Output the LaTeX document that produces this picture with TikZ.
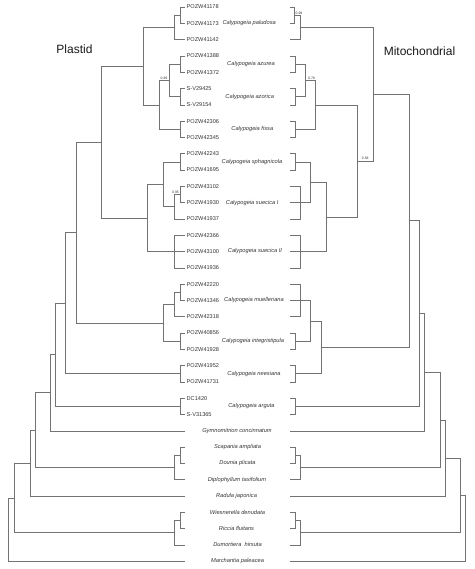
\documentclass[tikz,border=0pt]{standalone}
\usepackage{fontspec}
\setmainfont{Liberation Sans}
\begin{document}
\begin{tikzpicture}[x=1pt,y=-1pt,
  tree/.style={draw=black!55,line width=0.55pt},
  code/.style={anchor=west,inner sep=0pt,font=\fontsize{5.6}{6}\selectfont,text=black!80},
  spec/.style={inner sep=0pt,font=\fontsize{5.7}{6}\selectfont\itshape,text=black!80},
  supp/.style={anchor=south,inner sep=0.6pt,font=\fontsize{3.4}{4}\selectfont,text=black!80},
  title/.style={inner sep=0pt,font=\fontsize{12}{14}\selectfont,text=black!90}]
\useasboundingbox (0,0) rectangle (474,569);
% leaf end points
\foreach \i in {1,...,35}{
  \coordinate (L\i) at (185,{7+(\i-1)*16.3});
  \coordinate (R\i) at (290,{7+(\i-1)*16.3});
}
% specimen codes
\foreach \i/\c in {1/POZW41178,2/POZW41173,3/POZW41142,4/POZW41388,5/POZW41372,6/S-V29425,7/S-V29154,8/POZW42306,9/POZW42345,10/POZW42243,11/POZW41695,12/POZW43102,13/POZW41930,14/POZW41937,15/POZW42366,16/POZW43100,17/POZW41936,18/POZW42220,19/POZW41346,20/POZW42318,21/POZW40856,22/POZW41928,23/POZW41952,24/POZW41731,25/DC1420,26/S-V31365}{
  \node[code] (c\i) at (186.5,{7+(\i-1)*16.3}) {\c};
}
% species names
\node[spec] (sp1) at (249.2,23.3) {Calypogeia paludosa};
\node[spec] (sp2) at (251,64.05) {Calypogeia azurea};
\node[spec] (sp3) at (249.7,96.65) {Calypogeia azorica};
\node[spec] (sp4) at (252.3,129.25) {Calypogeia fissa};
\node[spec] (sp5) at (252,161.85) {Calypogeia sphagnicola};
\node[spec] (sp6) at (252.2,202.6) {Calypogeia suecica I};
\node[spec] (sp7) at (255,251.5) {Calypogeia suecica II};
\node[spec] (sp8) at (254,300.4) {Calypogeia muelleriana};
\node[spec] (sp9) at (253,341.15) {Calypogeia integristipula};
\node[spec] (sp10) at (254,373.75) {Calypogeia neesiana};
\node[spec] (sp11) at (251.5,406.35) {Calypogeia arguta};
\node[spec] (t27) at (237,430.8) {Gymnomitrion concinnatum};
\node[spec] (t28) at (237.5,447.1) {Scapania ampliata};
\node[spec] (t29) at (237.5,463.4) {Dounia plicata};
\node[spec] (t30) at (237,479.7) {Diplophyllum taxifolium};
\node[spec] (t31) at (236.5,496.0) {Radula japonica};
\node[spec] (t32) at (237.5,512.3) {Wiesnerella denudata};
\node[spec] (t33) at (236.5,528.6) {Riccia fluitans};
\node[spec] (t34) at (237.5,544.9) {Dumortiera\ \ hirsuta};
\node[spec] (t35) at (237.5,561.2) {Marchantia paleacea};
% titles
\node[title] (plastid) at (74.5,49) {Plastid};
\node[title] (mito) at (419.5,51) {Mitochondrial};
% ---------- left (plastid) tree ----------
\coordinate (A12) at (180,15.15);
\coordinate (A123) at (174.7,27.4);
\coordinate (A45) at (180,64.05);
\coordinate (A67) at (180,96.65);
\coordinate (A47) at (169.3,80.35);
\coordinate (A89) at (180,129.25);
\coordinate (A49) at (159,104.8);
\coordinate (A19) at (143,66.1);
\coordinate (A1011) at (180,161.85);
\coordinate (A1213) at (180,194.45);
\coordinate (A1214) at (174,206.7);
\coordinate (A1014) at (163.3,184.3);
\coordinate (A1517) at (174,251.5);
\coordinate (A1017) at (147.7,217.9);
\coordinate (A117) at (101.7,142);
\coordinate (A1819) at (180,292.25);
\coordinate (A1820) at (174.7,304.5);
\coordinate (A2122) at (180,341.15);
\coordinate (A1822) at (163.3,322.8);
\coordinate (A122) at (76.7,232.4);
\coordinate (A2324) at (180,373.75);
\coordinate (A124) at (65,303.1);
\coordinate (A2526) at (180,406.35);
\coordinate (A126) at (55,354.7);
\coordinate (A127) at (50,392.75);
\coordinate (A2829) at (180,455.25);
\coordinate (A2830) at (174,467.5);
\coordinate (A130) at (35,430.1);
\coordinate (A131) at (30,463.05);
\coordinate (A3233) at (180,520.45);
\coordinate (A3234) at (174,532.7);
\coordinate (A134) at (14,497.9);
\coordinate (Aroot) at (8.3,529.5);
\foreach \p/\c in {A12/L1,A12/L2,A123/A12,A123/L3,A45/L4,A45/L5,A67/L6,A67/L7,A47/A45,A47/A67,A89/L8,A89/L9,A49/A47,A49/A89,A19/A123,A19/A49,
  A1011/L10,A1011/L11,A1213/L12,A1213/L13,A1214/A1213,A1214/L14,A1014/A1011,A1014/A1214,A1517/L15,A1517/L16,A1517/L17,A1017/A1014,A1017/A1517,A117/A19,A117/A1017,
  A1819/L18,A1819/L19,A1820/A1819,A1820/L20,A2122/L21,A2122/L22,A1822/A1820,A1822/A2122,A122/A117,A122/A1822,
  A2324/L23,A2324/L24,A124/A122,A124/A2324,A2526/L25,A2526/L26,A126/A124,A126/A2526,A127/A126,A127/L27,
  A2829/L28,A2829/L29,A2830/A2829,A2830/L30,A130/A127,A130/A2830,A131/A130,A131/L31,
  A3233/L32,A3233/L33,A3234/A3233,A3234/L34,A134/A131,A134/A3234,Aroot/A134,Aroot/L35}{
  \draw[tree] (\p) |- (\c);
}
% ---------- right (mitochondrial) tree ----------
\coordinate (B12) at (294.7,15.15);
\coordinate (B123) at (300,27.4);
\coordinate (B45) at (295.3,64.05);
\coordinate (B67) at (295.3,96.65);
\coordinate (B47) at (305.7,80.35);
\coordinate (B89) at (295.3,129.25);
\coordinate (B49) at (315.7,104.8);
\coordinate (B1011) at (295.3,161.85);
\coordinate (B1214) at (300,202.6);
\coordinate (B1014) at (310.7,182.2);
\coordinate (B1517) at (300,251.5);
\coordinate (B1017) at (326.3,216.85);
\coordinate (B417) at (357.3,160.8);
\coordinate (B117) at (373.3,94.1);
\coordinate (B1820) at (300,300.4);
\coordinate (B2122) at (295.3,341.15);
\coordinate (B1822) at (310.7,320.8);
\coordinate (B2324) at (295.3,373.75);
\coordinate (B1824) at (321.3,347.3);
\coordinate (B124) at (409,220.7);
\coordinate (B2526) at (295.3,406.35);
\coordinate (B126) at (419.7,313.5);
\coordinate (B127) at (424.7,372.15);
\coordinate (B2829) at (295.3,455.25);
\coordinate (B2830) at (300,467.5);
\coordinate (B130) at (440,419.8);
\coordinate (B131) at (445,457.9);
\coordinate (B3233) at (295.3,520.45);
\coordinate (B3234) at (300,532.7);
\coordinate (B134) at (460.7,495.3);
\coordinate (Broot) at (465.7,528.2);
\foreach \p/\c in {B12/R1,B12/R2,B123/B12,B123/R3,B45/R4,B45/R5,B67/R6,B67/R7,B47/B45,B47/B67,B89/R8,B89/R9,B49/B47,B49/B89,
  B1011/R10,B1011/R11,B1214/R12,B1214/R13,B1214/R14,B1014/B1011,B1014/B1214,B1517/R15,B1517/R16,B1517/R17,B1017/B1014,B1017/B1517,
  B417/B49,B417/B1017,B117/B123,B117/B417,
  B1820/R18,B1820/R19,B1820/R20,B2122/R21,B2122/R22,B1822/B1820,B1822/B2122,B2324/R23,B2324/R24,B1824/B1822,B1824/B2324,
  B124/B117,B124/B1824,B2526/R25,B2526/R26,B126/B124,B126/B2526,B127/B126,B127/R27,
  B2829/R28,B2829/R29,B2830/B2829,B2830/R30,B130/B127,B130/B2830,B131/B130,B131/R31,
  B3233/R32,B3233/R33,B3234/B3233,B3234/R34,B134/B131,B134/B3234,Broot/B134,Broot/R35}{
  \draw[tree] (\p) |- (\c);
}
% support values
\node[supp] (s099) at (299,15.15) {0.99};
\node[supp] (s089) at (164,80.35) {0.89};
\node[supp] (s095) at (175.5,194.45) {0.95};
\node[supp] (s078) at (311.5,80.35) {0.78};
\node[supp] (s058) at (365.3,160.8) {0.58};
\end{tikzpicture}
\end{document}
